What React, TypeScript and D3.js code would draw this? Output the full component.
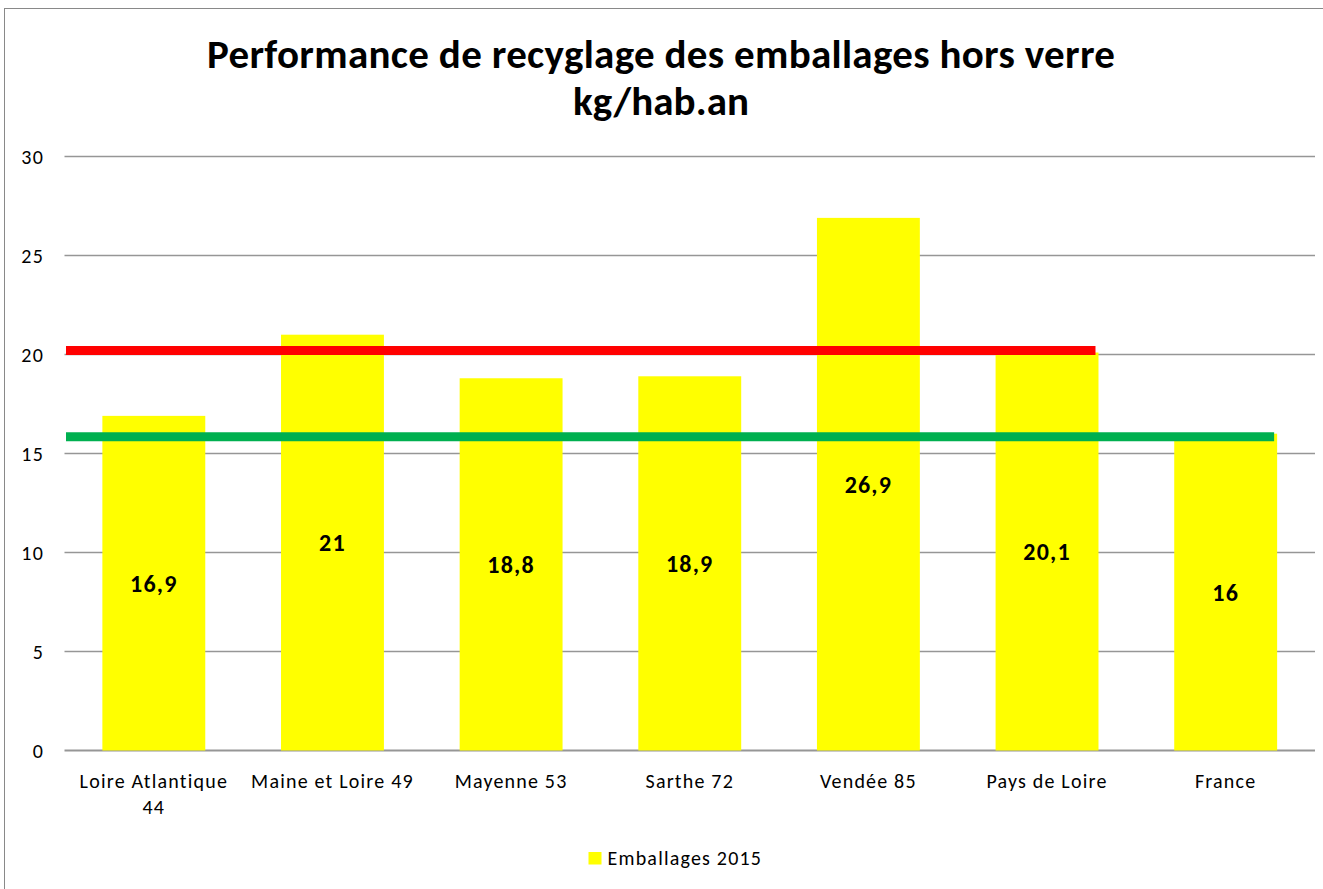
import React from "react";
import * as d3 from "d3";

const categories = [
  "Loire Atlantique 44",
  "Maine et Loire 49",
  "Mayenne 53",
  "Sarthe 72",
  "Vendée 85",
  "Pays de Loire",
  "France",
];
const categoryLines = [
  ["Loire Atlantique", "44"],
  ["Maine et Loire 49"],
  ["Mayenne 53"],
  ["Sarthe 72"],
  ["Vendée 85"],
  ["Pays de Loire"],
  ["France"],
];
const values2015 = [16.9, 21, 18.8, 18.9, 26.9, 20.1, 16];
const valueLabels = ["16,9", "21", "18,8", "18,9", "26,9", "20,1", "16"];
const yTicks = [0, 5, 10, 15, 20, 25, 30];
const refValues = [20.2, 15.85];
const refEndCategory = ["Pays de Loire", "France"];
const refColors = ["#ff0000", "#00b050"];
const seriesName = "Emballages 2015";
const titleLines = ["Performance de recyglage des emballages hors verre", "kg/hab.an"];
const titleWidths = [908, 176];

const W = 1323;
const H = 889;
const FONT = "Carlito, Calibri, Lato, 'Open Sans', sans-serif";

export default function App() {
  const left = 64.5;
  const right = 1315;
  const top = 156.5;
  const bottom = 750.5;
  const x = d3.scaleBand<string>().domain(categories).range([left, right]).paddingInner(0.424).paddingOuter(0.212);
  const y = d3.scaleLinear().domain([0, 30]).range([bottom, top]);
  const cx = (c: string) => (x(c) as number) + x.bandwidth() / 2;

  return (
    <svg width={W} height={H} style={{ position: "absolute", left: 0, top: 0, background: "#fff" }} fontFamily={FONT}>
      <rect x={4.5} y={8.5} width={W + 40} height={H + 40} fill="#fff" stroke="#898989" strokeWidth={1} />
      {titleLines.map((t, i) => (
        <text
          key={i}
          x={661}
          y={68 + i * 47}
          textAnchor="middle"
          fontSize={41}
          fontWeight="bold"
          fill="#000"
          textLength={titleWidths[i]}
          lengthAdjust="spacing"
        >
          {t}
        </text>
      ))}
      {yTicks.map((t) => (
        <g key={t}>
          <line x1={left} x2={right} y1={y(t)} y2={y(t)} stroke="#969696" strokeWidth={t === 0 ? 2 : 1.5} />
          <text x={44} y={y(t)} dy="0.35em" textAnchor="end" fontSize={20} letterSpacing={1.2} fill="#000">
            {t}
          </text>
        </g>
      ))}
      {categories.map((c, i) => (
        <rect key={c} x={x(c)} y={y(values2015[i])} width={x.bandwidth()} height={y(0) - y(values2015[i])} fill="#ffff00" />
      ))}
      {refValues.map((v, i) => {
        const endCat = refEndCategory[i];
        const x2 = (x(endCat) as number) + x.bandwidth() - 3;
        return <line key={i} x1={left + 1.5} x2={x2} y1={y(v)} y2={y(v)} stroke={refColors[i]} strokeWidth={9} />;
      })}
      {categories.map((c, i) => (
        <text
          key={c}
          x={cx(c)}
          y={(y(values2015[i]) + y(0)) / 2}
          dy="0.35em"
          textAnchor="middle"
          fontSize={24}
          fontWeight="bold"
          letterSpacing={1.2}
          fill="#000"
        >
          {valueLabels[i]}
        </text>
      ))}
      {categories.map((c, i) => (
        <text key={c} x={cx(c)} y={788} textAnchor="middle" fontSize={20} letterSpacing={1.2} fill="#000">
          {categoryLines[i].map((l, j) => (
            <tspan key={j} x={cx(c)} dy={j === 0 ? 0 : 26}>
              {l}
            </tspan>
          ))}
        </text>
      ))}
      <rect x={588.5} y={852} width={13} height={12.5} fill="#ffff00" />
      <text x={607.5} y={865} fontSize={20} letterSpacing={1.2} fill="#000">
        {seriesName}
      </text>
    </svg>
  );
}
